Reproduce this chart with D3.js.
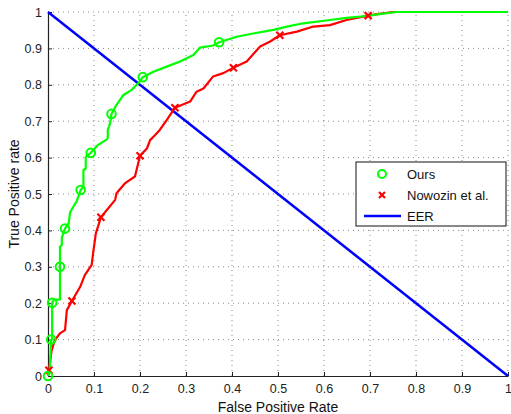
<!DOCTYPE html>
<html>
<head>
<meta charset="utf-8">
<script src="https://cdn.jsdelivr.net/npm/d3@7"></script>
<style>
  body { margin: 0; background: #fff; }
  svg { font-family: "Liberation Sans", Arial, sans-serif; }
</style>
</head>
<body>
<div id="chart"></div>
<script>
// ROC curves: [false positive rate, true positive rate]
var oursCurve = [
  [0, 0], [0.004, 0.02], [0.007, 0.1], [0.009, 0.1], [0.009, 0.201], [0.013, 0.21],
  [0.026, 0.21], [0.026, 0.3], [0.026, 0.355], [0.03, 0.36], [0.03, 0.38], [0.037, 0.405],
  [0.045, 0.42], [0.048, 0.45], [0.055, 0.465], [0.062, 0.479], [0.071, 0.511],
  [0.077, 0.52], [0.077, 0.566], [0.082, 0.57], [0.082, 0.602], [0.093, 0.613],
  [0.109, 0.635], [0.128, 0.65], [0.13, 0.655], [0.13, 0.676], [0.135, 0.694],
  [0.138, 0.72], [0.149, 0.745], [0.164, 0.772], [0.182, 0.786], [0.196, 0.804],
  [0.206, 0.821], [0.229, 0.836], [0.258, 0.85], [0.287, 0.864], [0.316, 0.882],
  [0.33, 0.902], [0.359, 0.908], [0.372, 0.917], [0.41, 0.932], [0.446, 0.941],
  [0.49, 0.951], [0.519, 0.96], [0.555, 0.969], [0.613, 0.978], [0.649, 0.984],
  [0.693, 0.989], [0.72, 0.994], [0.758, 1], [0.85, 1], [1, 1]
];
var nowozinCurve = [
  [0, 0], [0.002, 0.016], [0.008, 0.071], [0.015, 0.099], [0.026, 0.117], [0.037, 0.126],
  [0.041, 0.181], [0.052, 0.206], [0.07, 0.245], [0.08, 0.277], [0.095, 0.305],
  [0.098, 0.337], [0.104, 0.392], [0.115, 0.436], [0.128, 0.456], [0.146, 0.484],
  [0.149, 0.502], [0.167, 0.529], [0.189, 0.548], [0.196, 0.584], [0.2, 0.605],
  [0.215, 0.625], [0.222, 0.648], [0.233, 0.662], [0.243, 0.676], [0.258, 0.703],
  [0.276, 0.737], [0.309, 0.754], [0.323, 0.781], [0.338, 0.79], [0.359, 0.823],
  [0.381, 0.832], [0.403, 0.847], [0.432, 0.864], [0.461, 0.905], [0.483, 0.919],
  [0.504, 0.936], [0.541, 0.946], [0.577, 0.96], [0.613, 0.964], [0.649, 0.978],
  [0.696, 0.99], [0.72, 0.995], [0.75, 1], [1, 1]
];
var eerLine = [[0, 1], [1, 0]];

// marked operating points
var oursMarks = [
  [0, 0], [0.007, 0.1], [0.009, 0.201], [0.026, 0.3], [0.037, 0.405], [0.071, 0.511],
  [0.093, 0.613], [0.138, 0.72], [0.206, 0.821], [0.372, 0.917]
];
var nowozinMarks = [
  [0.002, 0.016], [0.052, 0.206], [0.115, 0.436], [0.2, 0.605], [0.276, 0.737],
  [0.403, 0.847], [0.504, 0.936], [0.696, 0.99]
];

var xTicks = [0, 0.1, 0.2, 0.3, 0.4, 0.5, 0.6, 0.7, 0.8, 0.9, 1];
var yTicks = [0, 0.1, 0.2, 0.3, 0.4, 0.5, 0.6, 0.7, 0.8, 0.9, 1];
var legendNames = ["Ours", "Nowozin et al.", "EER"];

var width = 511, height = 414;
var x = d3.scaleLinear().domain([0, 1]).range([48, 508]);
var y = d3.scaleLinear().domain([0, 1]).range([376, 12]);

var svg = d3.select("#chart").append("svg")
  .attr("width", width)
  .attr("height", height);

// dotted grid
svg.append("g").selectAll("line")
  .data(xTicks.slice(1))
  .enter().append("line")
  .attr("x1", function (d) { return x(d); })
  .attr("x2", function (d) { return x(d); })
  .attr("y1", y(0)).attr("y2", y(1))
  .attr("stroke", "#888").attr("stroke-width", 1)
  .attr("stroke-dasharray", "1,4");
svg.append("g").selectAll("line")
  .data(yTicks.slice(1))
  .enter().append("line")
  .attr("y1", function (d) { return y(d); })
  .attr("y2", function (d) { return y(d); })
  .attr("x1", x(0)).attr("x2", x(1))
  .attr("stroke", "#888").attr("stroke-width", 1)
  .attr("stroke-dasharray", "1,4");

// axes
var xAxis = d3.axisBottom(x).tickValues(xTicks).tickSizeInner(-4).tickSizeOuter(0)
  .tickPadding(8).tickFormat(d3.format("~g"));
var yAxis = d3.axisLeft(y).tickValues(yTicks).tickSizeInner(-4).tickSizeOuter(0)
  .tickPadding(6).tickFormat(d3.format("~g"));

var gx = svg.append("g").attr("transform", "translate(0," + y(0) + ")").call(xAxis);
var gy = svg.append("g").attr("transform", "translate(" + x(0) + ",0)").call(yAxis);
[gx, gy].forEach(function (g) {
  g.select(".domain").attr("stroke", "#222").attr("stroke-width", 1.2);
  g.selectAll(".tick line").attr("stroke", "#222");
  g.selectAll(".tick text").attr("font-size", 12.5).attr("fill", "#222")
    .attr("font-family", "Liberation Sans, Arial, sans-serif");
});

// curves
var line = d3.line().x(function (d) { return x(d[0]); }).y(function (d) { return y(d[1]); });

svg.append("path").datum(eerLine).attr("d", line)
  .attr("fill", "none").attr("stroke", "#0000ff").attr("stroke-width", 2.5);
svg.append("path").datum(nowozinCurve).attr("d", line)
  .attr("fill", "none").attr("stroke", "#ff0000").attr("stroke-width", 2.2)
  .attr("stroke-linejoin", "round");
svg.append("path").datum(oursCurve).attr("d", line)
  .attr("fill", "none").attr("stroke", "#00ff00").attr("stroke-width", 2.2)
  .attr("stroke-linejoin", "round");

// red cross markers
function cross(sel, s) {
  sel.append("path")
    .attr("d", "M" + (-s) + "," + (-s) + "L" + s + "," + s + "M" + (-s) + "," + s + "L" + s + "," + (-s))
    .attr("stroke", "#ff0000").attr("stroke-width", 2.2).attr("fill", "none");
}
svg.append("g").selectAll("g")
  .data(nowozinMarks)
  .enter().append("g")
  .attr("transform", function (d) { return "translate(" + x(d[0]) + "," + y(d[1]) + ")"; })
  .each(function () { cross(d3.select(this), 3.5); });

// green circle markers
svg.append("g").selectAll("circle")
  .data(oursMarks)
  .enter().append("circle")
  .attr("cx", function (d) { return x(d[0]); })
  .attr("cy", function (d) { return y(d[1]); })
  .attr("r", 4.3)
  .attr("fill", "none").attr("stroke", "#00ff00").attr("stroke-width", 2);

// axis titles
svg.append("text")
  .attr("x", 278).attr("y", 412)
  .attr("text-anchor", "middle").attr("font-size", 14).attr("fill", "#111")
  .text("False Positive Rate");
svg.append("text")
  .attr("transform", "translate(19,194)rotate(-90)")
  .attr("text-anchor", "middle").attr("font-size", 14).attr("fill", "#111")
  .text("True Positive rate");

// legend
var legend = svg.append("g").attr("transform", "translate(356,162)");
legend.append("rect")
  .attr("width", 150).attr("height", 64)
  .attr("fill", "#fff").attr("stroke", "#111").attr("stroke-width", 1);
var items = legend.selectAll("g.item")
  .data(legendNames)
  .enter().append("g")
  .attr("class", "item")
  .attr("transform", function (d, i) { return "translate(0," + (12 + i * 21) + ")"; });
items.append("text")
  .attr("x", 51).attr("dy", "0.36em")
  .attr("font-size", 13).attr("fill", "#111")
  .text(function (d) { return d; });
items.filter(function (d, i) { return i === 0; }).append("circle")
  .attr("cx", 26).attr("r", 4).attr("fill", "none")
  .attr("stroke", "#00ff00").attr("stroke-width", 2);
items.filter(function (d, i) { return i === 1; }).each(function () {
  var g = d3.select(this).append("g").attr("transform", "translate(26,0)");
  cross(g, 3);
});
items.filter(function (d, i) { return i === 2; }).append("line")
  .attr("x1", 8).attr("x2", 45)
  .attr("stroke", "#0000ff").attr("stroke-width", 2.5);
</script>
</body>
</html>
